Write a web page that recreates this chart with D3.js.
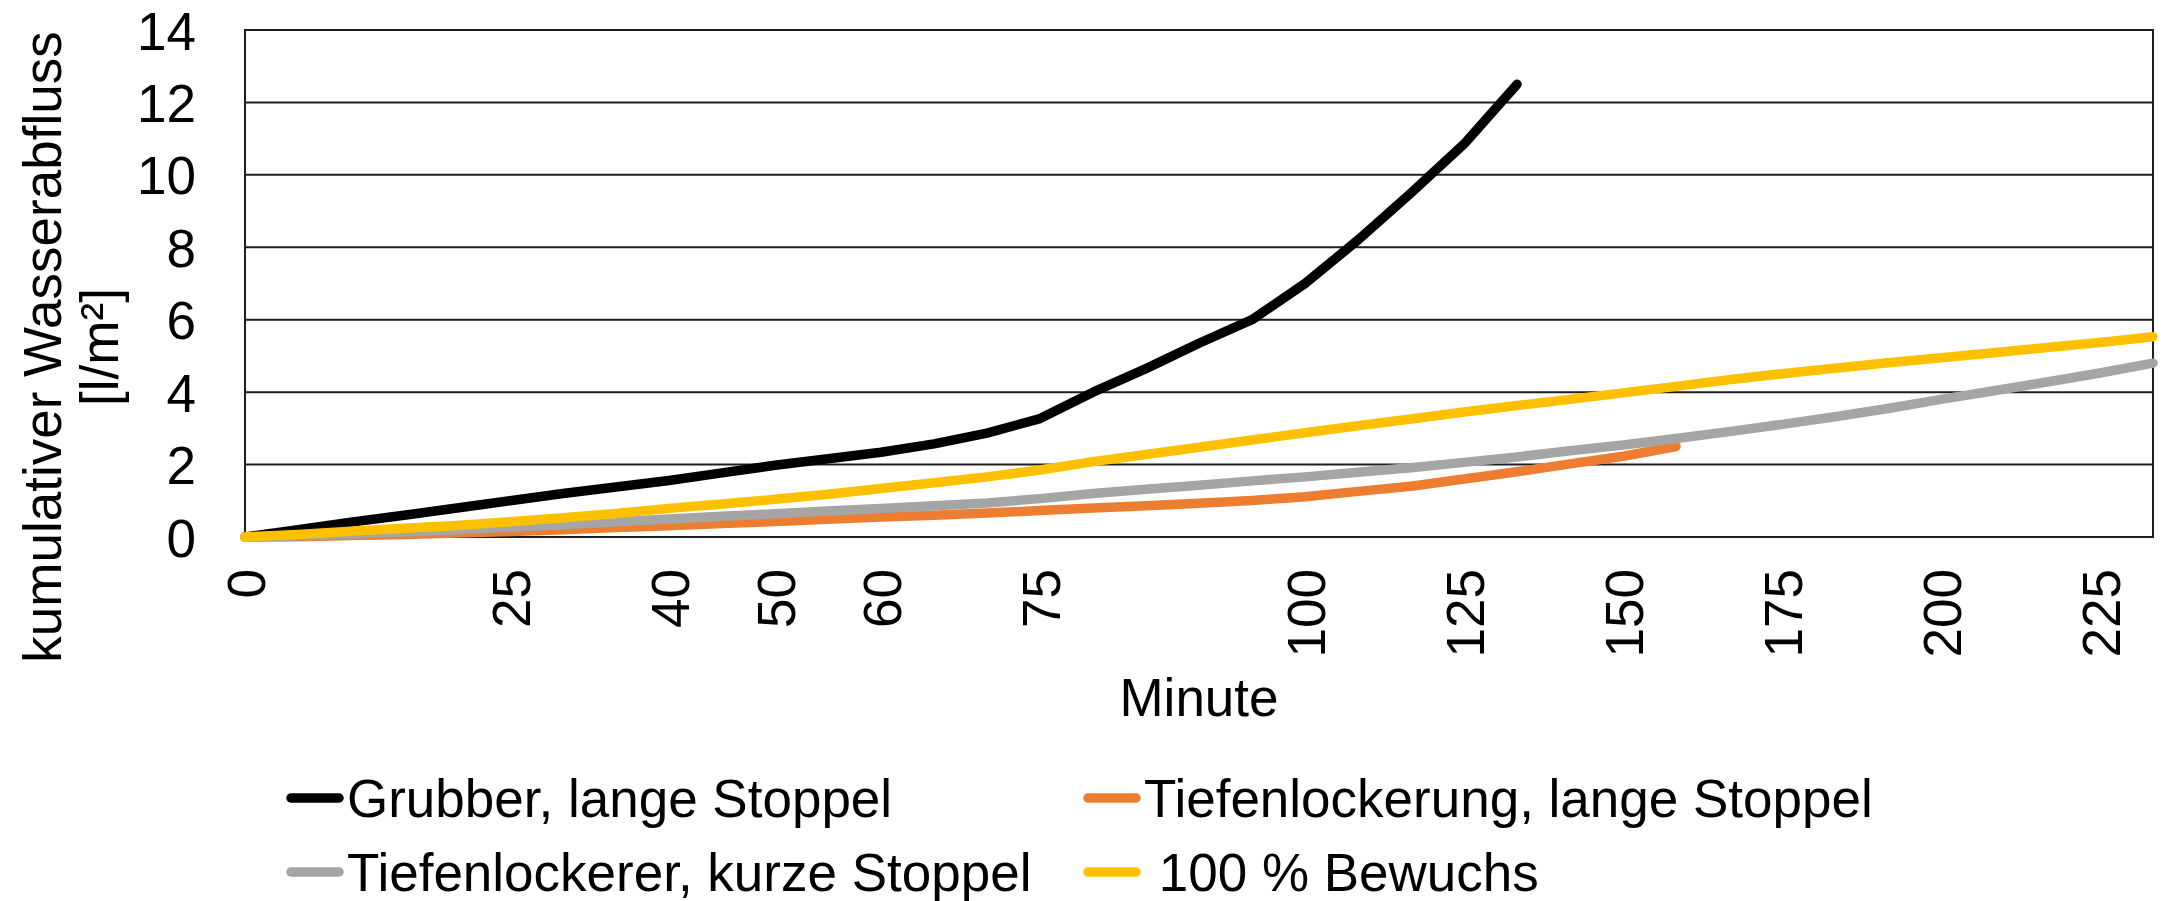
<!DOCTYPE html>
<html><head><meta charset="utf-8">
<script src="https://cdn.jsdelivr.net/npm/d3@7"></script>
<style>
body{margin:0;background:#fff;}
text{font-family:"Liberation Sans",Arial,sans-serif;fill:#000;}
</style>
</head><body>
<svg id="chart" width="2162" height="901"></svg>
<script>
// Category axis (minutes); unlabeled measurement points are blank
const categories = ["0","","","","","25","","","40","","50","","60","","","75","","","","","100","","","125","","","150","","","175","","","200","","","225",""];
const yTicks = [0, 2, 4, 6, 8, 10, 12, 14];
const seriesNames = ["Grubber, lange Stoppel", "Tiefenlockerung, lange Stoppel", "Tiefenlockerer, kurze Stoppel", " 100 % Bewuchs"];
const seriesColors = ["#000000", "#ED7D31", "#A5A5A5", "#FFC000"];

const grubber = [0, 0.2, 0.41, 0.6, 0.8, 1.0, 1.2, 1.38, 1.56, 1.77, 1.98, 2.16, 2.34, 2.57, 2.87, 3.27, 4.0, 4.65, 5.35, 6.0, 7.0, 8.2, 9.5, 10.85, 12.5];
const tiefenlockerung = [0, 0.01, 0.04, 0.07, 0.11, 0.15, 0.2, 0.26, 0.31, 0.37, 0.43, 0.49, 0.55, 0.6, 0.66, 0.73, 0.8, 0.86, 0.93, 1.01, 1.11, 1.26, 1.4, 1.6, 1.8, 2.02, 2.23, 2.5];
const tiefenlockerer = [0, 0.03, 0.08, 0.14, 0.2, 0.27, 0.34, 0.42, 0.5, 0.57, 0.64, 0.72, 0.79, 0.86, 0.94, 1.06, 1.2, 1.32, 1.43, 1.55, 1.66, 1.79, 1.91, 2.06, 2.21, 2.38, 2.54, 2.72, 2.91, 3.11, 3.32, 3.55, 3.8, 4.04, 4.28, 4.53, 4.8];
const bewuchs = [0, 0.07, 0.16, 0.24, 0.32, 0.42, 0.53, 0.65, 0.79, 0.91, 1.04, 1.18, 1.34, 1.5, 1.66, 1.85, 2.08, 2.28, 2.48, 2.68, 2.88, 3.07, 3.26, 3.45, 3.63, 3.8, 3.98, 4.16, 4.34, 4.51, 4.66, 4.81, 4.95, 5.09, 5.23, 5.37, 5.53];

const series = [grubber, tiefenlockerung, tiefenlockerer, bewuchs];

const svg = d3.select("#chart");
const FS = 53;
const plot = {left: 245, right: 2153, top: 30, bottom: 537};

const x = d3.scalePoint().domain(d3.range(categories.length)).range([plot.left, plot.right]).padding(0);
const y = d3.scaleLinear().domain([0, 14]).range([plot.bottom, plot.top]);

// gridlines
svg.append("g").selectAll("line").data(yTicks).join("line")
  .attr("x1", plot.left).attr("x2", plot.right)
  .attr("y1", d => y(d)).attr("y2", d => y(d))
  .attr("stroke", "#1f1f1f").attr("stroke-width", 2);

// plot border
svg.append("rect").attr("x", plot.left).attr("y", plot.top)
  .attr("width", plot.right - plot.left).attr("height", plot.bottom - plot.top)
  .attr("fill", "none").attr("stroke", "#1f1f1f").attr("stroke-width", 2);

// y axis labels
const yAxis = d3.axisLeft(y).tickValues(yTicks).tickSize(0).tickPadding(0).tickFormat(d3.format("d"));
const gy = svg.append("g").attr("transform", `translate(196,0)`).call(yAxis);
gy.select(".domain").remove();
gy.selectAll("text").attr("font-size", FS).attr("font-family", "Liberation Sans, Arial, sans-serif").attr("dy", "0.36em").attr("x", 0);

// x axis labels
const labelIdx = d3.range(categories.length).filter(i => categories[i] !== "");
const xAxis = d3.axisBottom(x).tickValues(labelIdx).tickSize(0).tickFormat(i => categories[i]);
const gx = svg.append("g").attr("transform", `translate(0,569)`).call(xAxis);
gx.select(".domain").remove();
gx.selectAll("text")
  .attr("font-size", FS).attr("font-family", "Liberation Sans, Arial, sans-serif")
  .attr("text-anchor", "end").attr("transform", "rotate(-90)")
  .attr("x", 0).attr("y", 0).attr("dy", "0.36em");

// lines
const line = d3.line().x((d, i) => x(i)).y(d => y(d));
series.forEach((s, k) => {
  svg.append("path").datum(s).attr("d", line)
    .attr("fill", "none").attr("stroke", seriesColors[k]).attr("stroke-width", 9.5)
    .attr("stroke-linejoin", "round").attr("stroke-linecap", "round");
});

// axis titles
svg.append("text").attr("x", 1199).attr("y", 716).attr("text-anchor", "middle")
  .attr("font-size", FS).text("Minute");
const yTitle = ["kumulativer Wasserabfluss", "[l/m²]"];
const yTitleX = [61, 118];
yTitle.forEach((t, i) => {
  svg.append("text").attr("transform", `translate(${yTitleX[i]},347) rotate(-90)`)
    .attr("text-anchor", "middle").attr("font-size", FS).text(t);
});

// legend
const legendPos = [[287, 798], [1084, 798], [287, 872], [1084, 872]];
seriesNames.forEach((n, k) => {
  const [lx, ly] = legendPos[k];
  svg.append("line").attr("x1", lx + 4).attr("x2", lx + 52).attr("y1", ly).attr("y2", ly)
    .attr("stroke", seriesColors[k]).attr("stroke-width", 9.5).attr("stroke-linecap", "round");
  svg.append("text").attr("x", lx + 60).attr("y", ly).attr("dy", "0.36em")
    .attr("font-size", FS).style("white-space", "pre").text(n);
});
</script>
</body></html>
